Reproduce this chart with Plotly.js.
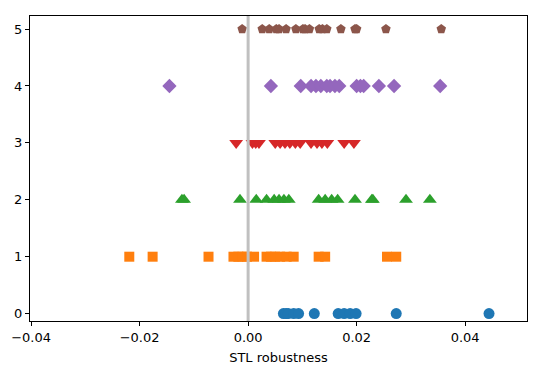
<!DOCTYPE html>
<html>
<head>
<meta charset="utf-8">
<script src="https://cdn.plot.ly/plotly-3.0.1.min.js"></script>
<style>
  html, body { margin: 0; padding: 0; background: #fff; }
  #plot { width: 539px; height: 366px; }
</style>
</head>
<body>
<div id="plot"></div>
<script>
// STL robustness values per row (row index = y position)
const row0 = [0.0065, 0.0070, 0.0074, 0.0084, 0.0093, 0.0122, 0.0166, 0.0177, 0.0188, 0.0199, 0.0273, 0.0444];
const row1 = [-0.0219, -0.0176, -0.0073, -0.0027, -0.0018, -0.0010, -0.0002, 0.0011, 0.0034, 0.0042, 0.0050, 0.0059, 0.0071, 0.0084, 0.0130, 0.0142, 0.0256, 0.0273];
const row2 = [-0.0122, -0.0118, -0.0015, 0.0015, 0.0034, 0.0048, 0.0057, 0.0066, 0.0075, 0.0130, 0.0142, 0.0154, 0.0165, 0.0197, 0.0228, 0.0230, 0.0291, 0.0335];
const row3 = [-0.0022, 0.0008, 0.0014, 0.0020, 0.0050, 0.0059, 0.0068, 0.0077, 0.0087, 0.0096, 0.0116, 0.0127, 0.0136, 0.0146, 0.0177, 0.0195];
const row4 = [-0.0145, 0.0042, 0.0097, 0.0116, 0.0125, 0.0134, 0.0145, 0.0151, 0.0160, 0.0168, 0.0200, 0.0207, 0.0213, 0.0241, 0.0269, 0.0354];
const row5 = [-0.0011, 0.0026, 0.0039, 0.0052, 0.0057, 0.0070, 0.0088, 0.0101, 0.0105, 0.0113, 0.0131, 0.0137, 0.0145, 0.0171, 0.0197, 0.0200, 0.0254, 0.0356];

const rows = [row0, row1, row2, row3, row4, row5];
const symbols = ["circle", "square", "triangle-up", "triangle-down", "diamond", "pentagon"];
const colors = ["#1f77b4", "#ff7f0e", "#2ca02c", "#d62728", "#9467bd", "#8c564b"];
const sizes = [11, 10, 12, 12, 11, 10];

const xTicks = [-0.04, -0.02, 0, 0.02, 0.04];
const yTicks = [0, 1, 2, 3, 4, 5];

const traces = rows.map((vals, i) => ({
  type: "scatter",
  mode: "markers",
  x: vals,
  y: vals.map(() => i),
  marker: { symbol: symbols[i], color: colors[i], size: sizes[i], line: { width: 0 } },
  hoverinfo: "x"
}));

const font = { family: "DejaVu Sans, sans-serif", size: 13, color: "#000" };

const layout = {
  width: 539,
  height: 366,
  margin: { l: 30, r: 12, t: 16, b: 45 },
  paper_bgcolor: "#fff",
  plot_bgcolor: "#fff",
  showlegend: false,
  font: font,
  xaxis: {
    range: [-0.0402, 0.0514],
    tickvals: xTicks,
    tickformat: ".2f",
    ticks: "outside",
    ticklen: 4,
    tickcolor: "#000",
    showgrid: false,
    zeroline: false,
    showline: true,
    linecolor: "#000",
    linewidth: 1,
    mirror: true,
    title: { text: "STL robustness", font: font, standoff: 9 }
  },
  yaxis: {
    range: [-0.13, 5.23],
    tickvals: yTicks,
    ticks: "outside",
    ticklen: 4,
    tickcolor: "#000",
    showgrid: false,
    zeroline: false,
    showline: true,
    linecolor: "#000",
    linewidth: 1,
    mirror: true
  },
  shapes: [{
    type: "line", xref: "x", yref: "paper",
    x0: 0, x1: 0, y0: 0, y1: 1,
    line: { color: "#c0c0c0", width: 3 }
  }]
};

Plotly.newPlot("plot", traces, layout, { displayModeBar: false, staticPlot: true });
</script>
</body>
</html>
